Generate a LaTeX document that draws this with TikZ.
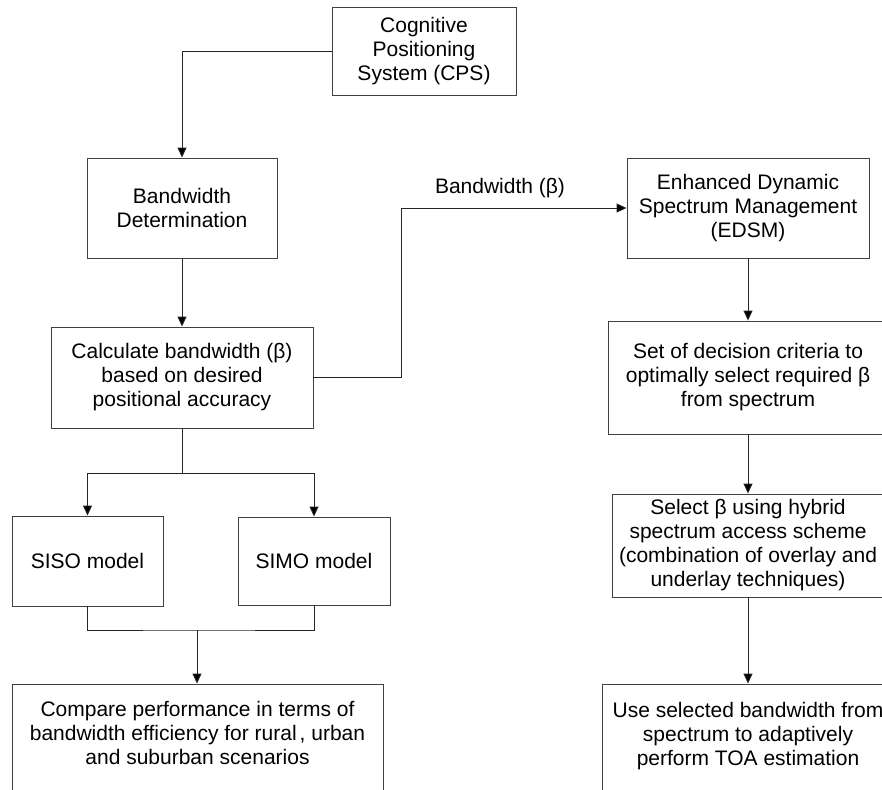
\documentclass[tikz,border=0pt]{standalone}
\usepackage{fontspec}
\setmainfont{Liberation Sans}
\usetikzlibrary{arrows.meta}
\begin{document}
\begin{tikzpicture}[x=1pt,y=-1pt,
  box/.style={draw=black!75, line width=0.9pt, rectangle, inner sep=0pt,
              align=center, font=\fontsize{21}{24}\selectfont},
  lbl/.style={inner sep=0pt, font=\fontsize{21}{24}\selectfont},
  link/.style={draw=black!85, line width=0.9pt},
  arr/.style={link, -{Triangle[length=10pt,width=9pt,fill=black]}}]

\useasboundingbox (0,0) rectangle (882,789);
\clip (0,0) rectangle (882,789);

% left column
\node[box, minimum width=184, minimum height=88] (cps) at (424,51)
  {Cognitive\\Positioning\\System (CPS)};
\node[box, minimum width=190, minimum height=100] (bd) at (182,208)
  {Bandwidth\\Determination};
\node[box, minimum width=262, minimum height=101] (calc) at (182,377.5)
  {Calculate bandwidth (β)\\based on desired\\positional accuracy};
\node[box, minimum width=151, minimum height=90] (siso) at (87.5,561)
  {SISO model};
\node[box, minimum width=152, minimum height=88] (simo) at (314,561)
  {SIMO model};
\node[box, minimum width=371, minimum height=122] (cmp) at (197.5,745)
  {Compare performance in terms of\\bandwidth efficiency for rural\kern3pt, urban\\and suburban scenarios\\\mbox{}};

% right column
\node[box, minimum width=242, minimum height=100] (edsm) at (748,208)
  {Enhanced Dynamic\\Spectrum Management\\(EDSM)};
\node[box, minimum width=280, minimum height=113] (crit) at (748,377.5)
  {Set of decision criteria to\\optimally select required β\\from spectrum};
\node[box, minimum width=272, minimum height=103] (sel) at (748,545.5)
  {Select β using hybrid\\spectrum access scheme\\(combination of overlay and\\underlay techniques)};
\node[box, minimum width=292, minimum height=124] (use) at (748,746)
  {Use selected bandwidth from\\spectrum to adaptively\\perform TOA estimation\\\mbox{}};

% connectors
\coordinate (bend) at (401,377.5);
\coordinate (split) at (182,473);
\coordinate (join) at (197,630);

\draw[arr] (cps.west) -| (bd.north);
\draw[arr] (bd.south) -- (calc.north);
\draw[arr] (calc.east) -- (bend) |- (edsm.west);
\node[lbl] (bwlab) at (500,188) {Bandwidth (β)};

\draw[link] (calc.south) -- (split);
\draw[arr] (split) -| (siso.north);
\draw[arr] (split) -| (simo.north);
\draw[link] (siso.south) |- (join) -| (simo.south);
\draw[arr] (join) -- (join |- cmp.north);

\draw[arr] (edsm.south) -- (crit.north);
\draw[arr] (crit.south) -- (sel.north);
\draw[arr] (sel.south) -- (use.north);
\end{tikzpicture}
\end{document}
